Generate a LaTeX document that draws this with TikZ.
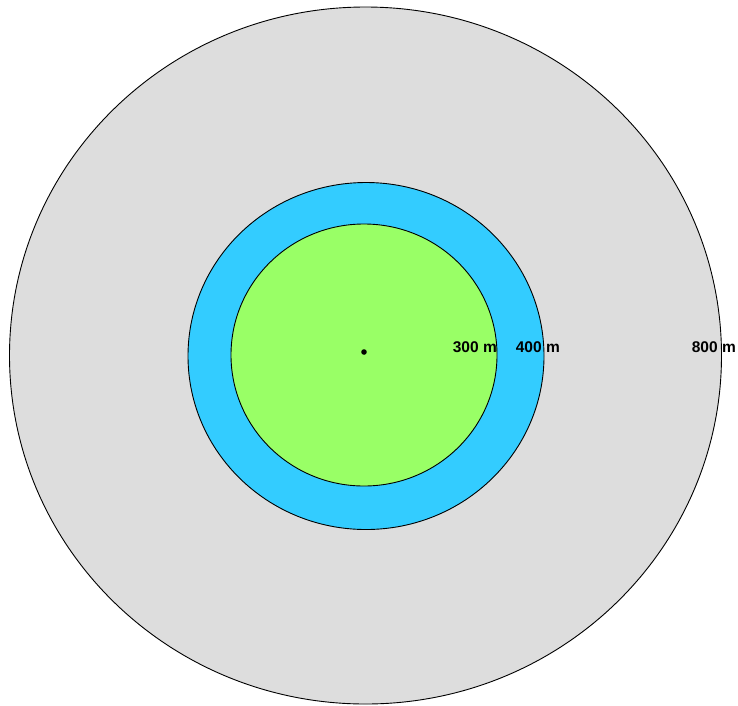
\documentclass[tikz,border=0pt]{standalone}
\usepackage{fontspec}
\setmainfont{Liberation Sans}
\usepackage{tikz}
\usetikzlibrary{positioning}
\definecolor{zonegray}{RGB}{221,221,221}
\definecolor{zoneblue}{RGB}{51,204,255}
\definecolor{zonegreen}{RGB}{153,255,102}
\tikzset{
  zone/.style={
    draw=black,
    line width=0.9pt
  },
  radlabel/.style={
    anchor=base east,
    inner sep=0pt,
    font=\fontsize{15.5}{18}\selectfont\bfseries
  }
}

\begin{document}
\begin{tikzpicture}[x=1pt, y=-1pt]
        \useasboundingbox (0,0) rectangle (738,705);
        \filldraw[zone, fill=zonegray] (365.5,355.5) ellipse [x radius=356, y radius=348.5];
        \filldraw[zone, fill=zoneblue] (366,356) ellipse [x radius=178, y radius=173.5];
        \filldraw[zone, fill=zonegreen] (364,355) ellipse [x radius=133, y radius=131];
        \fill[black] (364,352) circle [radius=2.8];
        \node[radlabel] (r300) at (497,352) {300 m};
        \node[radlabel] (r400) at (560,352) {400 m};
        \node[radlabel] (r800) at (736,352) {800 m};
      \end{tikzpicture}
\end{document}
